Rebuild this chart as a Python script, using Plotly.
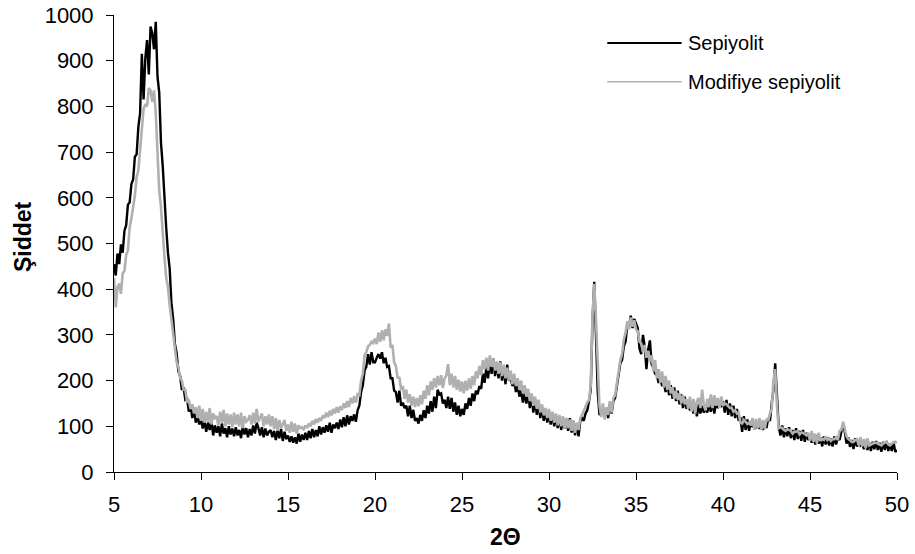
import plotly.graph_objects as go

# 2-theta grid: 5.0 .. 50.0, step 0.1
two_theta = [round(5 + 0.1 * i, 1) for i in range(451)]

sepiyolit = [
    455, 430, 478, 455, 498, 480, 528, 540, 585, 590,
    630, 640, 690, 695, 755, 785, 915, 815, 905, 945,
    870, 975, 960, 925, 985, 865, 830, 720, 670, 595,
    535, 480, 445, 370, 335, 280, 260, 220, 210, 180,
    185, 158, 160, 132, 145, 118, 138, 108, 125, 104,
    115, 95, 112, 88, 108, 92, 112, 80, 102, 86,
    100, 78, 106, 84, 96, 76, 100, 82, 95, 78,
    98, 80, 92, 74, 100, 82, 96, 76, 94, 80,
    102, 84, 108, 96, 80, 98, 76, 95, 80, 88,
    92, 76, 90, 70, 92, 74, 94, 68, 88, 72,
    80, 66, 78, 64, 76, 62, 84, 66, 82, 70,
    86, 70, 90, 74, 94, 76, 92, 78, 100, 82,
    98, 86, 102, 88, 108, 86, 104, 96, 108, 94,
    115, 98, 120, 100, 124, 104, 122, 112, 126, 110,
    135, 145, 175, 190, 222, 230, 258, 235, 262, 240,
    240, 250, 258, 248, 262, 238, 250, 230, 232, 205,
    205, 178, 175, 152, 178, 145, 152, 140, 145, 122,
    145, 118, 136, 112, 118, 106, 125, 112, 135, 118,
    145, 128, 155, 132, 165, 140, 180, 170, 172, 150,
    158, 140, 165, 138, 162, 132, 152, 125, 145, 122,
    138, 125, 150, 138, 162, 145, 172, 155, 178, 170,
    188, 182, 215, 195, 230, 205, 245, 215, 248, 210,
    240, 205, 242, 200, 228, 192, 235, 200, 205, 188,
    200, 175, 190, 165, 178, 152, 172, 150, 175, 140,
    170, 130, 158, 125, 150, 118, 142, 112, 135, 108,
    128, 104, 125, 100, 122, 96, 120, 92, 118, 95,
    115, 90, 118, 86, 112, 80, 106, 78, 112, 118,
    112, 128, 135, 155, 180, 330, 416, 300, 175, 125,
    128, 132, 122, 140, 118, 150, 128, 155, 162, 185,
    205, 238, 245, 275, 285, 322, 318, 342, 315, 335,
    325, 315, 270, 258, 300, 275, 225, 268, 288, 235,
    228, 215, 212, 195, 205, 188, 195, 175, 198, 168,
    190, 160, 185, 155, 178, 148, 170, 140, 165, 138,
    148, 135, 150, 128, 145, 122, 148, 128, 145, 130,
    140, 130, 150, 132, 155, 128, 152, 140, 148, 145,
    155, 130, 158, 125, 150, 122, 145, 118, 138, 112,
    120, 88, 122, 92, 115, 90, 110, 98, 104, 96,
    108, 94, 104, 92, 106, 96, 118, 112, 150, 180,
    238, 160, 100, 80, 102, 76, 96, 78, 98, 74,
    92, 70, 96, 72, 90, 68, 92, 66, 86, 70,
    76, 64, 82, 60, 80, 62, 76, 56, 78, 60,
    76, 58, 74, 56, 78, 60, 76, 70, 90, 105,
    88, 62, 76, 55, 70, 50, 74, 56, 64, 58,
    62, 50, 66, 48, 64, 46, 66, 50, 68, 48,
    64, 44, 66, 48, 68, 46, 62, 46, 66, 44,
    48,
]

modifiye_sepiyolit = [
    425, 360, 405, 412, 390, 435, 440, 475, 485, 535,
    555, 580, 605, 645, 660, 705, 755, 795, 805, 800,
    840, 835, 810, 835, 785, 695, 615, 580, 515, 470,
    425, 405, 365, 335, 295, 275, 240, 230, 205, 200,
    180, 180, 152, 158, 138, 148, 128, 142, 118, 145,
    112, 138, 108, 132, 110, 140, 104, 128, 118, 122,
    102, 132, 108, 136, 100, 128, 104, 126, 98, 130,
    104, 126, 100, 130, 96, 122, 110, 114, 124, 104,
    130, 106, 138, 110, 118, 128, 100, 122, 104, 126,
    100, 122, 94, 118, 90, 114, 96, 106, 114, 90,
    104, 86, 110, 88, 106, 84, 102, 96, 98, 92,
    102, 96, 106, 100, 112, 104, 116, 108, 118, 112,
    124, 118, 130, 120, 134, 124, 138, 128, 142, 130,
    144, 136, 150, 140, 155, 142, 162, 150, 166, 152,
    170, 168, 200, 215, 255, 262, 275, 278, 285, 282,
    292, 280, 305, 285, 310, 288, 312, 298, 325, 272,
    278, 240, 232, 205, 208, 180, 188, 160, 180, 152,
    170, 145, 165, 142, 162, 144, 168, 148, 178, 160,
    190, 168, 198, 180, 205, 185, 210, 190, 212, 184,
    205, 212, 236, 190, 215, 185, 210, 180, 202, 176,
    198, 172, 200, 178, 205, 182, 210, 190, 220, 205,
    232, 212, 245, 225, 250, 222, 255, 230, 248, 222,
    242, 215, 240, 210, 235, 205, 228, 200, 222, 192,
    215, 188, 205, 180, 200, 172, 190, 165, 182, 155,
    172, 145, 165, 138, 158, 130, 148, 124, 140, 118,
    138, 112, 132, 108, 128, 102, 125, 100, 122, 95,
    118, 96, 115, 90, 112, 86, 108, 92, 118, 125,
    135, 145, 152, 158, 190, 340, 412, 335, 220, 145,
    120, 150, 115, 142, 125, 155, 130, 162, 168, 195,
    215, 245, 258, 290, 305, 330, 312, 338, 318, 332,
    312, 308, 285, 282, 262, 278, 250, 265, 242, 255,
    220, 245, 205, 225, 195, 220, 185, 210, 180, 200,
    172, 185, 160, 178, 158, 172, 150, 168, 148, 160,
    138, 165, 132, 160, 128, 155, 162, 140, 180, 145,
    135, 160, 142, 170, 140, 168, 145, 162, 140, 165,
    145, 150, 148, 145, 140, 140, 132, 135, 128, 130,
    108, 106, 114, 110, 105, 108, 102, 118, 92, 116,
    96, 118, 92, 114, 94, 116, 112, 128, 138, 200,
    225, 145, 96, 98, 96, 92, 90, 94, 92, 90,
    84, 88, 88, 90, 82, 86, 86, 82, 80, 86,
    68, 90, 66, 84, 62, 86, 68, 72, 70, 78,
    70, 74, 68, 72, 72, 76, 70, 90, 92, 110,
    92, 78, 72, 70, 66, 66, 70, 72, 58, 76,
    56, 72, 52, 74, 58, 60, 62, 64, 64, 62,
    60, 58, 62, 64, 66, 60, 58, 62, 64, 66,
    64,
]

series_names = ["Sepiyolit", "Modifiye sepiyolit"]
x_ticks = [5, 10, 15, 20, 25, 30, 35, 40, 45, 50]
y_ticks = [0, 100, 200, 300, 400, 500, 600, 700, 800, 900, 1000]

BLACK = "#000000"
GRAY = "#b0b0b0"
FONT = "Liberation Sans, Arial, sans-serif"

fig = go.Figure()
fig.add_trace(go.Scatter(x=two_theta, y=sepiyolit, mode="lines", name=series_names[0],
                         line=dict(color=BLACK, width=2.4), showlegend=False))
fig.add_trace(go.Scatter(x=two_theta, y=modifiye_sepiyolit, mode="lines", name=series_names[1],
                         line=dict(color=GRAY, width=2.6), showlegend=False))

# custom legend (long line samples as in the reference)
leg_y = [0.939, 0.854]
leg_col = [BLACK, GRAY]
leg_w = [2, 1.5]
for i in range(2):
    fig.add_shape(type="line", xref="paper", yref="paper", x0=0.63, x1=0.725,
                  y0=leg_y[i], y1=leg_y[i], line=dict(color=leg_col[i], width=leg_w[i]))
    fig.add_annotation(xref="paper", yref="paper", x=0.731, y=leg_y[i], xanchor="left",
                       yanchor="middle", text=series_names[i], showarrow=False,
                       font=dict(family=FONT, size=20, color="black"))

fig.add_annotation(xref="paper", yref="paper", x=0.5, y=-0.142, xanchor="center", yanchor="middle",
                   text="<b>2Θ</b>", showarrow=False, font=dict(family=FONT, size=23, color="black"))
fig.add_annotation(xref="paper", yref="paper", x=-0.117, y=0.515, xanchor="center", yanchor="middle",
                   text="<b>Şiddet</b>", textangle=-90, showarrow=False,
                   font=dict(family=FONT, size=23, color="black"))

axis_common = dict(showline=True, linecolor="black", linewidth=1, ticks="outside",
                   ticklen=7, tickcolor="black", tickwidth=1, showgrid=False, zeroline=False,
                   automargin=False, ticklabeloverflow="allow",
                   tickfont=dict(family=FONT, size=22, color="black"))
fig.update_xaxes(range=[5, 50], tickvals=x_ticks, ticklabelstandoff=6, **axis_common)
fig.update_yaxes(range=[0, 1000], tickvals=y_ticks, ticklabelstandoff=8, **axis_common)

fig.update_layout(width=915, height=554, margin=dict(l=114, r=18, t=15, b=82),
                  plot_bgcolor="white", paper_bgcolor="white",
                  font=dict(family=FONT, color="black"))

# remove the default 8px page margin so the figure sits at the window origin
fig.write_html("out.html", config={"displayModeBar": False},
               post_script="document.body.style.margin='0';")
